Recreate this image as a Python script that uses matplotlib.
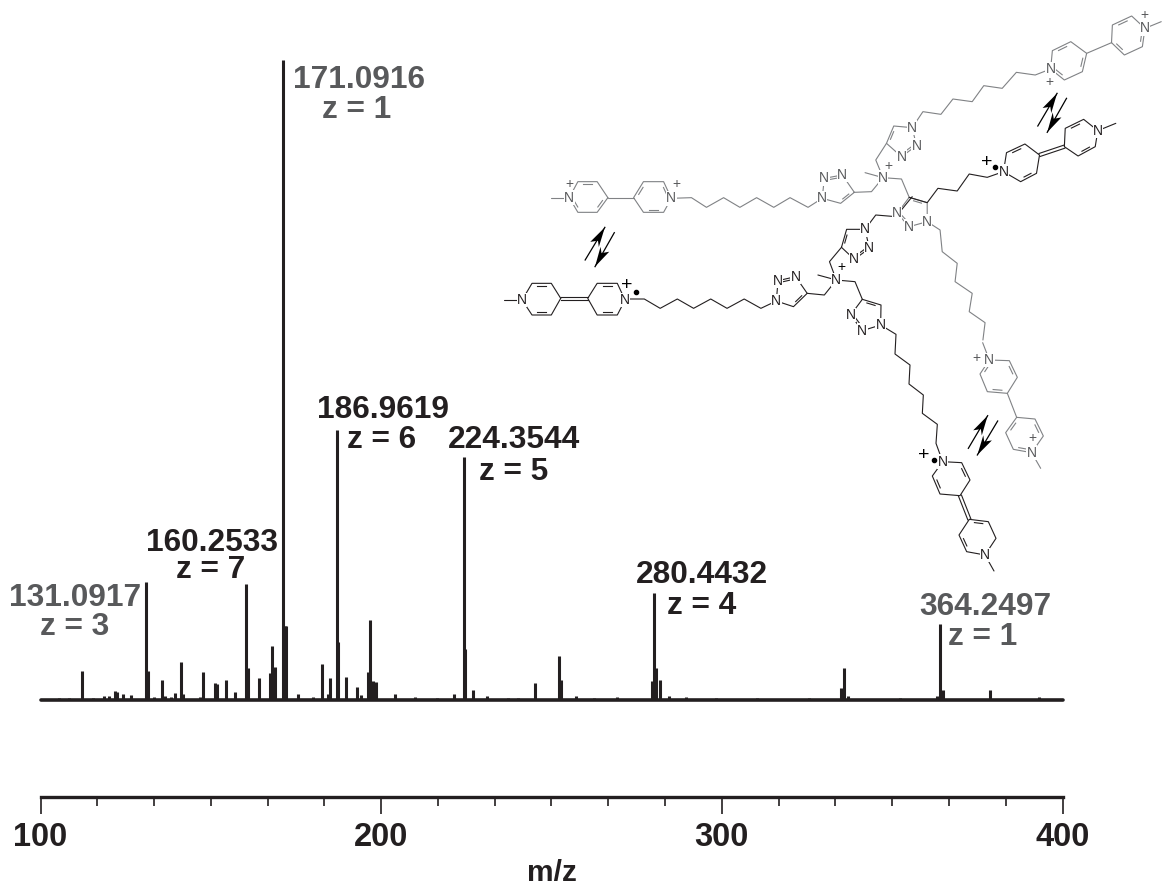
import numpy as np
import matplotlib
matplotlib.use("Agg")
import matplotlib.pyplot as plt
from matplotlib.ticker import MultipleLocator

plt.rcParams['font.family'] = ['Liberation Sans', 'DejaVu Sans']

# spectrum, m/z and relative intensity (%)
mz = [105.5, 108.4, 112.1, 115.3, 118.5, 120.1, 121.9, 122.6, 124.1, 126.5, 130.9, 131.6, 133.2, 135.75, 136.4, 138.2,
      139.5, 141.1, 141.9, 146.7, 147.6, 151.2, 151.7, 154.4, 157.1, 160.2, 160.8, 164.1, 167.4, 168.0, 168.8, 171.1,
      171.7, 172.1, 175.5, 179.9, 182.5, 184.4, 185.0, 186.9, 187.3, 189.6, 192.9, 194.1, 196.0, 196.6, 197.6, 198.4,
      204.1, 209.9, 216.4, 221.3, 224.3, 224.7, 227.1, 231.0, 237.3, 240.2, 245.3, 252.2, 252.9, 257.2, 262.5, 269.3,
      279.6, 280.2, 280.6, 281.8, 284.4, 289.5, 298.2, 310.4, 325.6, 335.1, 336.0, 337.0, 352.3, 363.2, 364.0, 365.0,
      378.6, 393.0]
intensity = [0.3, 0.3, 4.6, 0.3, 0.7, 0.6, 1.4, 1.2, 1.0, 0.8, 18.4, 4.5, 0.5, 3.2, 0.6, 0.5,
             1.1, 6.0, 0.9, 0.5, 4.3, 2.7, 2.5, 3.2, 1.2, 18.2, 5.0, 3.4, 4.2, 8.4, 5.1, 100.0,
             11.6, 11.6, 1.0, 0.4, 5.6, 0.9, 3.4, 42.2, 9.1, 3.6, 2.0, 0.8, 4.4, 12.5, 2.9, 2.8,
             1.0, 0.5, 0.3, 1.0, 38.0, 8.0, 1.6, 0.6, 0.3, 0.3, 2.7, 6.8, 3.1, 0.7, 0.3, 0.4,
             3.0, 16.7, 5.0, 3.1, 0.7, 0.4, 0.3, 0.3, 0.3, 1.9, 5.0, 0.6, 0.3, 0.6, 11.8, 1.6,
             1.5, 0.4]

peak_names = ["131.0917", "160.2533", "171.0916", "186.9619", "224.3544", "280.4432", "364.2497"]
charges = ["z = 3", "z = 7", "z = 1", "z = 6", "z = 5", "z = 4", "z = 1"]

dark = "#231f20"
grey = "#58595b"
bond_grey = "#808285"

fig = plt.figure(figsize=(11.62, 8.85), dpi=100)

# axes: 100..400 runs over pixels 40.5..1062.5, spine at y=797, baseline at y=700
ax = fig.add_axes([40.5 / 1162, (885 - 797) / 885, 1022 / 1162, 797 / 885])
ax.set_xlim(100, 400)
ax.set_ylim(-97 / 6.4, 700 / 6.4)
ax.vlines(mz, 0, intensity, color=dark, lw=2.2)
ax.plot([100, 400], [0, 0], color=dark, lw=2.6, solid_capstyle='round', clip_on=False)
ax.spines[['top', 'left', 'right']].set_visible(False)
ax.spines['bottom'].set_linewidth(2.4)
ax.spines['bottom'].set_color(dark)
ax.patch.set_alpha(0)
ax.set_yticks([])
ax.set_xticks([100, 200, 300, 400])
ax.xaxis.set_minor_locator(MultipleLocator(100 / 6))
ax.tick_params(axis='x', which='major', length=12, width=1.2, color=dark, labelsize=23.5,
               labelcolor=dark, pad=6)
ax.tick_params(axis='x', which='minor', length=6.5, width=1.2, color=dark)
for lab in ax.get_xticklabels():
    lab.set_fontweight('bold')
ax.set_xlabel("m/z", fontsize=21.5, fontweight='bold', color=dark, labelpad=4)

# overlay in image pixels for the peak labels and the drawn molecule
ov = fig.add_axes([0, 0, 1, 1])
ov.set_xlim(0, 1162)
ov.set_ylim(885, 0)
ov.axis('off')

label_x = [75, 212, 359, 383, 514, 702, 985]
label_y = [598, 543, 80, 410, 440, 575, 607]
charge_x = [75, 211, 357, 382, 514, 702, 983]
charge_y = [627, 570, 110, 440, 472, 606, 637]
label_col = [grey, dark, grey, dark, dark, dark, grey]
for i in range(len(peak_names)):
    ov.text(label_x[i], label_y[i], peak_names[i], color=label_col[i], fontsize=22.8, fontweight='bold',
            ha='center', va='center')
    ov.text(charge_x[i], charge_y[i], charges[i], color=label_col[i], fontsize=22.8, fontweight='bold',
            ha='center', va='center')


def z3(pts):
    return [(490 + x / 2.333, y / 3) for x, y in pts]


def z4(pts):
    return [(800 + x / 3, 230 + y / 3) for x, y in pts]


def chain(pts, col):
    p = np.array(pts)
    ov.plot(p[:, 0], p[:, 1], color=col, lw=0.8, solid_capstyle='round', zorder=2)


def ring(pts, doubles, col):
    p = np.array(pts)
    chain(list(pts) + [pts[0]], col)
    c = p.mean(axis=0)
    for i in doubles:
        a, b = p[i], p[(i + 1) % len(p)]
        a2 = a + 0.2 * (b - a) + 0.16 * (c - a)
        b2 = b - 0.2 * (b - a) + 0.16 * (c - b)
        ov.plot([a2[0], b2[0]], [a2[1], b2[1]], color=col, lw=0.8, zorder=2)


def double(a, b, col):
    a, b = np.array(a), np.array(b)
    n = np.array([-(b - a)[1], (b - a)[0]])
    n = n / np.hypot(*n) * 1.6
    for s in (-1, 1):
        ov.plot([a[0] + s * n[0], b[0] + s * n[0]], [a[1] + s * n[1], b[1] + s * n[1]], color=col, lw=0.8, zorder=2)


def atoms(pts, txt, col, size=10):
    for x, y in pts:
        ov.text(x, y, txt, color=col, fontsize=size, ha='center', va='center', zorder=4,
                bbox=dict(fc='white', ec='none', pad=0.2))


def plus(pts, col, size=10):
    for x, y in pts:
        ov.text(x, y, "+", color=col, fontsize=size, ha='center', va='center', zorder=5)


def half_arrow(start, end, col):
    s, e = np.array(start), np.array(end)
    d = (e - s) / np.hypot(*(e - s))
    n = np.array([-d[1], d[0]])
    ov.plot([s[0], e[0]], [s[1], e[1]], color=col, lw=0.9, zorder=2)
    ov.fill([e[0], e[0] - 20 * d[0] - 5 * n[0], e[0] - 15 * d[0] + 1 * n[0], e[0] - 20 * d[0] + 5 * n[0]],
            [e[1], e[1] - 20 * d[1] - 5 * n[1], e[1] - 15 * d[1] + 1 * n[1], e[1] - 20 * d[1] + 5 * n[1]],
            color="black", lw=0, zorder=3)


# grey (oxidised) arms
c = bond_grey
ring(z3([(1308, 207), (1312, 152), (1355, 125), (1392, 160), (1382, 215), (1340, 240)]), [1, 3, 5], c)
ring(z3([(1450, 128), (1452, 75), (1497, 48), (1528, 85), (1522, 140), (1480, 165)]), [1, 3, 5], c)
chain(z3([(1392, 160), (1450, 128)]), c)
chain(z3([(1528, 85), (1566, 65)]), c)
chain(z3([(1308, 207), (1272, 225), (1228, 217), (1195, 265), (1152, 257), (1125, 305), (1080, 297), (1052, 343),
          (1010, 335), (985, 383)]), c)
ring(z3([(985, 383), (942, 378), (925, 430), (960, 470), (995, 437)]), [1, 3], c)
chain(z3([(925, 430), (900, 480), (917, 533), (875, 518)]), c)
chain(z3([(917, 533), (960, 537), (978, 592)]), c)
chain(z3([(917, 533), (890, 575), (850, 577)]), c)
ring(z3([(850, 577), (818, 610), (775, 595), (780, 535), (822, 525)]), [0, 3], c)
chain(z3([(775, 595), (742, 622), (700, 593), (662, 622), (622, 593), (583, 622), (545, 593), (505, 622), (470, 593),
          (423, 595)]), c)
ring(z3([(423, 595), (405, 545), (358, 545), (335, 593), (358, 637), (405, 637)]), [0, 2, 4], c)
chain(z3([(335, 593), (275, 593)]), c)
ring(z3([(275, 593), (250, 545), (205, 545), (185, 593), (205, 637), (250, 637)]), [1, 3, 5], c)
chain(z3([(185, 593), (142, 593)]), c)
ring(z3([(978, 592), (1020, 608), (1020, 665), (978, 680), (950, 640)]), [0, 3], c)
chain(z3([(1020, 665), (1050, 690), (1055, 755), (1090, 790), (1085, 845), (1125, 880), (1118, 935), (1155, 968),
          (1150, 1020)]), c)
chain(z4([(548, 338), (568, 390)]), c)
ring(z4([(568, 390), (628, 392), (652, 442), (622, 490), (562, 485), (540, 432)]), [1, 3, 5], c)
chain(z4([(622, 490), (650, 562)]), c)
ring(z4([(650, 562), (705, 567), (730, 618), (695, 668), (640, 658), (617, 608)]), [1, 3, 5], c)
chain(z4([(695, 668), (722, 715)]), c)
atoms(z3([(1308, 207), (1528, 85), (985, 383), (960, 470), (995, 437), (917, 533), (775, 595), (780, 535), (822, 525),
          (423, 595), (185, 593), (1020, 665), (978, 680), (950, 640)]) + z4([(568, 390), (695, 668)]), "N", "#58595b")
plus(z3([(1527, 46), (1305, 245), (930, 498), (185, 553), (435, 553)]) + z4([(528, 385), (697, 625)]), "#58595b")

# black (reduced) arms
c = dark
ring(z3([(315, 900), (297, 850), (250, 850), (228, 895), (250, 945), (297, 945)]), [1, 4], c)
double(z3([(228, 895)])[0], z3([(165, 895)])[0], c)
ring(z3([(165, 895), (143, 850), (98, 850), (75, 900), (98, 945), (143, 945)]), [1, 4], c)
chain(z3([(75, 900), (33, 900)]), c)
chain(z3([(315, 897), (360, 897), (397, 925), (437, 897), (475, 925), (515, 897), (553, 925), (593, 897), (632, 925),
          (668, 903)]), c)
ring(z3([(668, 903), (672, 842), (713, 830), (740, 880), (708, 920)]), [1, 3], c)
chain(z3([(740, 880), (780, 885), (808, 840), (765, 825)]), c)
chain(z3([(808, 840), (792, 785), (820, 742)]), c)
ring(z3([(820, 742), (832, 688), (875, 688), (885, 745), (850, 778)]), [0, 3], c)
chain(z3([(875, 688), (900, 645), (947, 650), (985, 590)]), c)
chain(z3([(978, 592), (1020, 608), (1045, 565), (1090, 573), (1118, 522), (1160, 532), (1198, 515)]), c)
ring(z3([(1198, 515), (1205, 458), (1248, 432), (1282, 465), (1275, 520), (1238, 545)]), [1, 4], c)
double(z3([(1282, 465)])[0], z3([(1340, 440)])[0], c)
ring(z3([(1340, 440), (1342, 385), (1385, 358), (1418, 392), (1412, 440), (1372, 468)]), [1, 4], c)
chain(z3([(1418, 392), (1460, 370)]), c)
chain(z4([(108, 150), (165, 155), (187, 208)]), c)
ring(z4([(187, 208), (243, 225), (242, 285), (187, 302), (152, 255)]), [0, 3], c)
chain(z4([(242, 285), (288, 313), (285, 372), (330, 405), (327, 462), (370, 495), (367, 550), (412, 583), (408, 640),
          (428, 695)]), c)
ring(z4([(428, 695), (485, 698), (510, 750), (480, 797), (420, 792), (397, 738)]), [1, 4], c)
double(z4([(480, 797)])[0], z4([(508, 868)])[0], c)
ring(z4([(508, 868), (565, 875), (588, 925), (555, 975), (500, 965), (477, 915)]), [0, 4], c)
chain(z4([(555, 975), (582, 1023)]), c)
atoms(z3([(315, 900), (75, 900), (668, 903), (672, 842), (713, 830), (808, 840), (875, 688), (885, 745), (850, 778),
          (1198, 515), (1418, 392)]) + z4([(242, 285), (187, 302), (152, 255), (428, 695), (555, 975)]), "N", dark)
plus(z3([(820, 802)]), "black")
plus(z3([(318, 858), (1158, 488)]) + z4([(372, 675)]), "black", size=14)
dots = z3([(340, 877), (1177, 500)]) + z4([(403, 690)])
ov.plot([d[0] for d in dots], [d[1] for d in dots], 'o', color="black", ms=3, zorder=5)

half_arrow(z3([(222, 780)])[0], z3([(268, 682)])[0], "black")
half_arrow(z3([(290, 698)])[0], z3([(245, 800)])[0], "black")
half_arrow(z3([(1278, 378)])[0], z3([(1323, 280)])[0], "black")
half_arrow(z3([(1345, 295)])[0], z3([(1300, 397)])[0], "black")
half_arrow(z4([(505, 655)])[0], z4([(563, 557)])[0], "black")
half_arrow(z4([(593, 573)])[0], z4([(532, 675)])[0], "black")

plt.savefig("out.png", dpi=100)
